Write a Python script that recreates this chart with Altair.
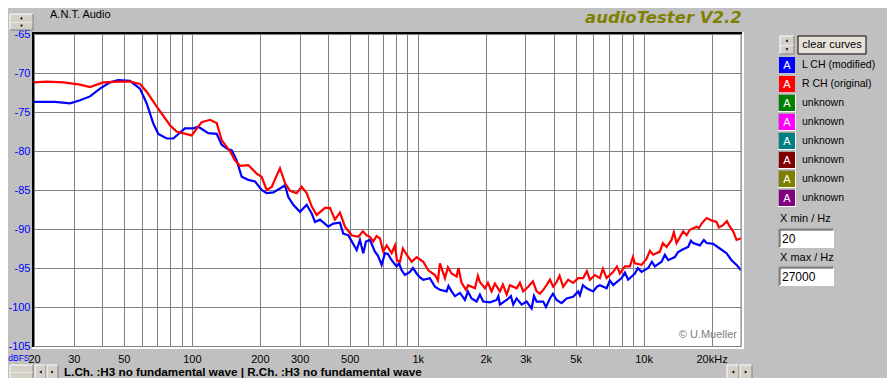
import altair as alt
import pandas as pd

# ---- data (frequency in Hz, level in dBFS) ----
left_ch = [(20, -73.7), (24.8, -73.7), (28.9, -73.9), (32.0, -73.5), (35.4, -73.0), (39.2, -72.0), (43.4, -71.2),
           (47.2, -70.9), (53.2, -71.0), (58.9, -72.0), (63.1, -73.9), (67.5, -76.5), (71.0, -77.8), (77.4, -78.4),
           (82.7, -78.4), (93.2, -77.1), (101.5, -77.1), (106.8, -76.9), (118.2, -77.7), (128.8, -77.8), (135.5, -79.2),
           (144.9, -79.8), (150.1, -79.9), (157.9, -81.2), (166.2, -83.3), (177.7, -83.7), (190.3, -83.9), (203.7, -85.0),
           (214.4, -85.4), (229.4, -85.3), (245.5, -84.8), (258.4, -84.4), (267.2, -85.9), (281.2, -86.9), (301.1, -87.8),
           (322.4, -86.9), (339.3, -88.0), (350.8, -89.1), (369.2, -88.8), (401.6, -89.7), (422.7, -89.3), (452.6, -89.2),
           (468.0, -90.6), (492.5, -90.8), (536.7, -92.7), (554.9, -91.4), (573.9, -93.1), (590, -91.6), (614.5, -91.4),
           (646.5, -92.9), (666, -93.4), (692.4, -94.6), (716.0, -93.1), (738, -93.2), (766.6, -94.0), (806.6, -94.8),
           (826, -94.4), (848.8, -95.3), (877.8, -95.9), (923.7, -95.5), (952, -95.0), (988.8, -95.7), (1023, -96.2),
           (1058, -96.5), (1132, -96.3), (1192, -97.4), (1254, -97.8), (1343, -98.0), (1368, -97.3), (1413, -98.0),
           (1461, -98.6), (1538, -98.2), (1618, -99.1), (1668, -98.0), (1732, -98.9), (1823, -99.3), (1885, -98.4),
           (1949, -99.3), (2088, -99.4), (2235, -99.1), (2276, -98.6), (2312, -99.7), (2476, -99.1), (2586, -98.6),
           (2648, -99.7), (2741, -98.9), (2884, -99.7), (3034, -99.3), (3194, -100.2), (3271, -98.6), (3361, -99.3),
           (3595, -99.3), (3696, -100.0), (3848, -98.9), (3969, -98.3), (4121, -99.1), (4335, -99.5), (4562, -98.9),
           (4878, -98.7), (5133, -98.0), (5224, -98.5), (5386, -97.2), (5596, -97.6), (5984, -98.0), (6214, -97.4),
           (6406, -97.2), (6861, -97.6), (7092, -96.6), (7336, -97.2), (7992, -96.3), (8268, -95.6), (8548, -96.5),
           (9154, -95.7), (9438, -95.0), (9796, -95.5), (10482, -95.0), (10884, -94.2), (11220, -94.8), (12012, -94.2),
           (12426, -93.3), (12852, -94.0), (13758, -93.6), (14187, -93.0), (14730, -92.7), (15756, -92.3),
           (16191, -91.5), (16580, -91.8), (17752, -92.1), (18491, -91.4), (19016, -91.8), (20330, -91.9),
           (21760, -92.5), (23300, -93.1), (24520, -94.0), (25810, -94.6), (27000, -95.3)]

right_ch = [(20, -71.2), (22.8, -71.1), (27.0, -71.2), (32.0, -71.5), (35.4, -71.8), (40.5, -71.2), (48.1, -71.1),
            (53.2, -71.1), (58.9, -71.4), (63.1, -72.4), (69.9, -74.3), (80.0, -76.7), (85.6, -77.5), (99.8, -78.0),
            (110.5, -76.3), (120.3, -76.0), (128.8, -76.4), (135.5, -78.6), (147.4, -80.0), (155.2, -81.2), (163.3, -81.9),
            (177.7, -81.8), (193.6, -82.9), (203.7, -83.3), (214.4, -85.0), (225.6, -84.6), (245.5, -82.2), (258.4, -84.1),
            (271.9, -85.1), (291.1, -85.4), (306.2, -84.6), (322.4, -85.4), (339.3, -87.1), (357.1, -88.2), (388.4, -87.3),
            (408.7, -87.3), (430.1, -88.8), (452.6, -87.9), (476.3, -89.7), (510.0, -90.8), (545.5, -91.0), (572, -90.3),
            (594.1, -90.8), (614.5, -91.0), (635.5, -91.6), (657.8, -90.9), (680.3, -91.2), (703.6, -92.9), (728.5, -92.1),
            (766.6, -93.1), (792.8, -92.1), (809, -94.0), (834.4, -94.2), (860, -92.5), (893.3, -93.3), (939.8, -94.2),
            (988.8, -93.6), (1058, -94.2), (1113, -95.3), (1192, -95.9), (1229, -96.6), (1254, -94.4), (1320, -96.3),
            (1361, -94.9), (1413, -95.7), (1486, -96.1), (1515, -95.0), (1564, -96.9), (1635, -97.8), (1673, -97.2),
            (1792, -97.6), (1847, -96.0), (1885, -96.8), (1984, -97.6), (2045, -96.9), (2124, -98.0), (2196, -97.0),
            (2312, -98.0), (2383, -97.1), (2476, -98.4), (2560, -97.2), (2741, -97.6), (2834, -96.9), (2931, -98.0),
            (3084, -97.4), (3236, -96.7), (3361, -98.0), (3475, -98.3), (3595, -97.8), (3722, -97.2), (3848, -96.5),
            (3981, -97.4), (4121, -96.8), (4248, -96.0), (4407, -97.4), (4637, -96.5), (4878, -96.9), (5133, -96.3),
            (5401, -96.3), (5610, -95.4), (5786, -96.5), (6088, -95.9), (6406, -96.3), (6604, -95.1), (6861, -96.3),
            (7336, -95.5), (7619, -94.8), (7857, -95.7), (8268, -94.8), (8699, -94.8), (8970, -93.6), (9154, -94.4),
            (9796, -94.6), (10311, -93.8), (10664, -92.8), (11026, -93.3), (11807, -92.9), (12174, -91.8),
            (12643, -92.3), (13303, -91.4), (13618, -90.4), (14000, -91.8), (14974, -90.3), (15503, -90.8),
            (16033, -90.1), (17165, -89.7), (17572, -89.9), (18062, -89.3), (19016, -88.6), (20000, -88.9),
            (21040, -89.1), (21540, -89.8), (22500, -89.5), (23380, -89.0), (24100, -89.7), (24920, -90.3),
            (25810, -91.4), (27000, -91.2)]

x_grid = [20, 30, 40, 50, 60, 70, 80, 90, 100, 200, 300, 400, 500, 600, 700, 800, 900,
          1000, 2000, 3000, 4000, 5000, 6000, 7000, 8000, 9000, 10000, 20000]
x_labels = [20, 30, 50, 100, 200, 300, 500, 1000, 2000, 3000, 5000, 10000, 20000]
y_ticks = [-65, -70, -75, -80, -85, -90, -95, -100, -105]

legend_names = ["L CH (modified)", "R CH (original)", "unknown", "unknown",
                "unknown", "unknown", "unknown", "unknown"]
legend_colors = ["#0000ff", "#ff0000", "#008000", "#ff00ff",
                 "#008080", "#800000", "#808000", "#800080"]

W, H = 707, 312
FONT = "Liberation Sans"
BG = "#c0c0c0"

left_df = pd.DataFrame(left_ch, columns=["hz", "db"]).sort_values("hz")
right_df = pd.DataFrame(right_ch, columns=["hz", "db"]).sort_values("hz")

xscale = alt.Scale(type="log", domain=[20, 27000], nice=False)
yscale = alt.Scale(domain=[-105, -65], nice=False, zero=False)

lbl_expr = ("indexof(" + str(x_labels) + ", datum.value) >= 0 ? "
            "(datum.value >= 20000 ? '20kHz' : (datum.value >= 1000 ? (datum.value/1000) + 'k' : '' + datum.value)) : ''")

xaxis = alt.Axis(values=x_grid, labelExpr=lbl_expr, grid=True, gridColor="#808080", gridWidth=1,
                 gridOpacity=1, domain=False, ticks=False, labelFont=FONT, labelFontSize=11,
                 labelColor="black", labelPadding=7, labelOverlap=False, labelFlush=False,
                 labelBound=False, title=None)
yaxis = alt.Axis(values=y_ticks, labelExpr="'-' + abs(datum.value)", grid=True, gridColor="#808080",
                 gridWidth=1, gridOpacity=1, domain=False, ticks=False, labelFont=FONT, labelFontSize=11,
                 labelColor="#0000ff", labelPadding=4, labelOverlap=False, labelFlush=False,
                 labelBound=False, title=None)

blue = alt.Chart(left_df).mark_line(color="#0000ff", strokeWidth=2.2, clip=True).encode(
    x=alt.X("hz:Q", scale=xscale, axis=xaxis),
    y=alt.Y("db:Q", scale=yscale, axis=yaxis),
)
red = alt.Chart(right_df).mark_line(color="#ff0000", strokeWidth=2.2, clip=True).encode(
    x=alt.X("hz:Q", scale=xscale, axis=xaxis),
    y=alt.Y("db:Q", scale=yscale, axis=yaxis),
)

one = alt.Data(values=[{}])


def txt(s, x, y, size=11, color="black", align="left", baseline="middle", weight="normal",
        style="normal", font=FONT):
    return alt.Chart(one).mark_text(text=s, align=align, baseline=baseline, fontSize=size, color=color,
                                    fontWeight=weight, fontStyle=style, font=font).encode(
        x=alt.value(x), y=alt.value(y))


def box(x1, y1, x2, y2, fill, stroke=None, sw=1):
    kw = dict(fill=fill)
    if stroke is not None:
        kw.update(stroke=stroke, strokeWidth=sw)
    return alt.Chart(one).mark_rect(**kw).encode(
        x=alt.value(x1), x2=alt.value(x2), y=alt.value(y1), y2=alt.value(y2))


def rule(x1, y1, x2, y2, color, w=1):
    return alt.Chart(one).mark_rule(color=color, strokeWidth=w).encode(
        x=alt.value(x1), x2=alt.value(x2), y=alt.value(y1), y2=alt.value(y2))


def tri(x, y, shape):
    return alt.Chart(one).mark_point(shape=shape, filled=True, color="black", size=8, opacity=1).encode(
        x=alt.value(x), y=alt.value(y))


def raised(x1, y1, x2, y2, face="#d4d0c8"):
    return [box(x1, y1, x2, y2, face),
            rule(x1, y1, x2, y1, "white"), rule(x1, y1, x1, y2, "white"),
            rule(x1, y2, x2, y2, "#808080"), rule(x2, y1, x2, y2, "#808080")]


deco = []
# frame of the plot area (sunken)
deco += [rule(-1, -2, -1, H + 1, "black", 2), rule(-2, -1, W + 1, -1, "black", 2),
         rule(W, 0, W, H, "#808080", 1), rule(W + 2, -2, W + 2, H + 3, "white", 2),
         rule(-2, H + 2, W + 3, H + 2, "white", 2)]
# header texts
deco += [txt("A.N.T. Audio", 16, -19, size=11),
         txt("audioTester V2.2", 551, -11, size=16.5, color="#808000", weight="bold", style="italic",
             font="DejaVu Sans", baseline="alphabetic")]
# top-left spin buttons
deco += raised(-24, -20, -1, -12) + raised(-24, -12, -1, -4)
deco += [tri(-12.5, -16, "triangle-up"), tri(-12.5, -8, "triangle-down")]
# copyright
deco += [txt("\u00a9 U.Mueller", 703, 301, size=11, color="#808080", align="right")]
# dBFS unit label
deco += [txt("dBFS", -4.5, H + 8, size=8.5, color="#0000ff", align="right", baseline="top")]

# legend panel on the right
LX = 745
deco += raised(746, 2, 760, 11) + raised(746, 11, 760, 20)
deco += [tri(753, 6.5, "triangle-up"), tri(753, 15.5, "triangle-down")]
deco += [box(764, 2, 832, 20, "#e6e2da", "black", 1), txt("clear curves", 798, 11, size=11, align="center")]
for i, (name, col) in enumerate(zip(legend_names, legend_colors)):
    cy = 31 + 19 * i
    if i >= 2:
        deco += [box(LX - 1, cy - 9, LX + 17, cy + 9, "white"), box(LX - 1, cy - 9, LX + 16, cy + 8, "#a0a0a0")]
    deco += [box(LX, cy - 8, LX + 16, cy + 8, col),
             txt("A", LX + 8, cy + 0.5, size=11, color="white", align="center"),
             txt(name, LX + 23, cy, size=10.5)]

# X min / X max inputs
for label, val, ty, by in [("X min / Hz", "20", 185, 195), ("X max / Hz", "27000", 224, 233)]:
    deco += [txt(label, 746, ty, size=11),
             box(745, by, 800, by + 19, "white"),
             rule(745, by, 800, by, "#808080"), rule(745, by, 745, by + 19, "#808080"),
             rule(746, by + 1, 799, by + 1, "#404040"), rule(746, by + 1, 746, by + 18, "#404040"),
             txt(val, 748, by + 10, size=12)]

# bottom status bar
deco += raised(-24, 331, -1, 338) + raised(-24, 338, -1, 345)
deco += raised(1, 331, 12, 345) + raised(13, 331, 24, 345)
deco += [tri(6.5, 338, "triangle-left"), tri(18.5, 338, "triangle-right")]
deco += raised(693, 331, 705, 345) + raised(706, 331, 718, 345)
deco += [tri(699, 338, "triangle-left"), tri(712, 338, "triangle-right")]
deco += [txt("L.Ch. :H3 no fundamental wave | R.Ch. :H3 no fundamental wave", 30, 338, size=11.7,
             weight="bold")]

chart = alt.layer(blue, red, *deco).properties(
    width=W, height=H,
    padding={"left": 26, "top": 26, "right": 146, "bottom": 32},
    autosize=alt.AutoSizeParams(type="none"),
    background=BG,
).configure_view(stroke=None, fill="white")

chart.save("out.html", embed_options={"renderer": "svg", "actions": False})
